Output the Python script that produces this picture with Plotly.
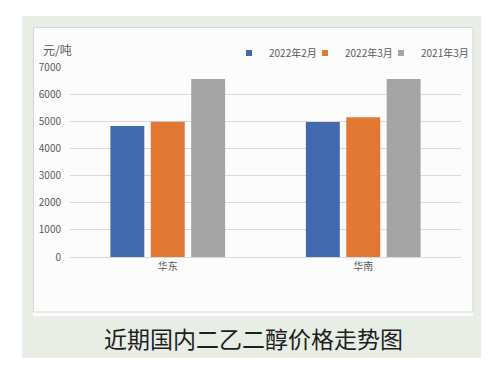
import plotly.graph_objects as go

categories = ["华东", "华南"]
series_names = ["2022年2月", "2022年3月", "2021年3月"]
feb_2022 = [4830, 4970]
mar_2022 = [4980, 5150]
mar_2021 = [6560, 6560]
colors = ["#4169b0", "#e07733", "#a5a4a4"]
y_ticks = [0, 1000, 2000, 3000, 4000, 5000, 6000, 7000]

OFF = 8  # browser default body margin
W, H = 489 - OFF, 370 - OFF
L, R, T, B = 70 - OFF, 461 - OFF, 67 - OFF, 257 - OFF  # plot area pixel bounds (figure coords)


def px(x):
    return (x - OFF - L) / (R - L)


def py(y):
    return (B - (y - OFF)) / (B - T)


legend_ids = ["legend", "legend2", "legend3"]
legend_x = [229, 305, 381]

fig = go.Figure()
for name, vals, c in zip(series_names, [feb_2022, mar_2022, mar_2021], colors):
    fig.add_trace(go.Bar(x=categories, y=vals, name=name, showlegend=False,
                         marker=dict(color=c, line=dict(width=0))))
for name, c, lg in zip(series_names, colors, legend_ids):
    fig.add_trace(go.Scatter(x=[None], y=[None], mode="markers", name=name, legend=lg,
                             marker=dict(symbol="square", size=6, color=c)))

shapes = [
    dict(type="rect", xref="paper", yref="paper", x0=px(22), x1=px(495), y0=py(358), y1=py(16),
         fillcolor="#e8ede6", line=dict(width=0), layer="below"),
    dict(type="rect", xref="paper", yref="paper", x0=px(33), x1=px(473), y0=py(316), y1=py(27),
         fillcolor="#fdfdfd", line=dict(width=0), layer="below"),
    dict(type="rect", xref="paper", yref="paper", x0=px(33.5), x1=px(473), y0=py(312), y1=py(27.5),
         fillcolor="#fcfcfc", line=dict(width=1, color="#d6d6d6"), layer="below"),
]

annotations = [
    dict(text="元/吨", xref="paper", yref="paper", x=px(41), y=py(50), xanchor="left", yanchor="middle",
         showarrow=False, font=dict(size=12, color="#595959", family="Noto Sans CJK SC")),
    dict(text="近期国内二乙二醇价格走势图", xref="paper", yref="paper", x=px(253), y=py(338),
         xanchor="center", yanchor="middle", showarrow=False,
         font=dict(size=23, color="#1e1e1e", family="Noto Sans CJK SC")),
]

legend_common = dict(orientation="h", y=py(53), xanchor="left", yanchor="middle",
                     bgcolor="rgba(0,0,0,0)", font=dict(size=10, color="#595959"), itemwidth=30)

fig.update_layout(
    width=W, height=H,
    margin=dict(l=L, r=W - R, t=T, b=H - B, pad=0),
    paper_bgcolor="#ffffff", plot_bgcolor="rgba(0,0,0,0)",
    barmode="group", bargap=0.38, bargroupgap=0.16,
    font=dict(family="Noto Sans CJK SC", size=10, color="#595959"),
    shapes=shapes, annotations=annotations,
    legend=dict(x=px(legend_x[0]), **legend_common),
    legend2=dict(x=px(legend_x[1]), **legend_common),
    legend3=dict(x=px(legend_x[2]), **legend_common),
    xaxis=dict(showgrid=False, showline=True, linecolor="#d9d9d9", linewidth=1, ticks="",
               tickfont=dict(size=10, color="#595959")),
    yaxis=dict(range=[0, 7000], tickvals=y_ticks, showgrid=True, gridcolor="#d9d9d9", gridwidth=1,
               zeroline=False, showline=False, ticks="", ticklabelstandoff=8,
               tickfont=dict(size=10, color="#595959")),
)

fig.write_html("out.html")
